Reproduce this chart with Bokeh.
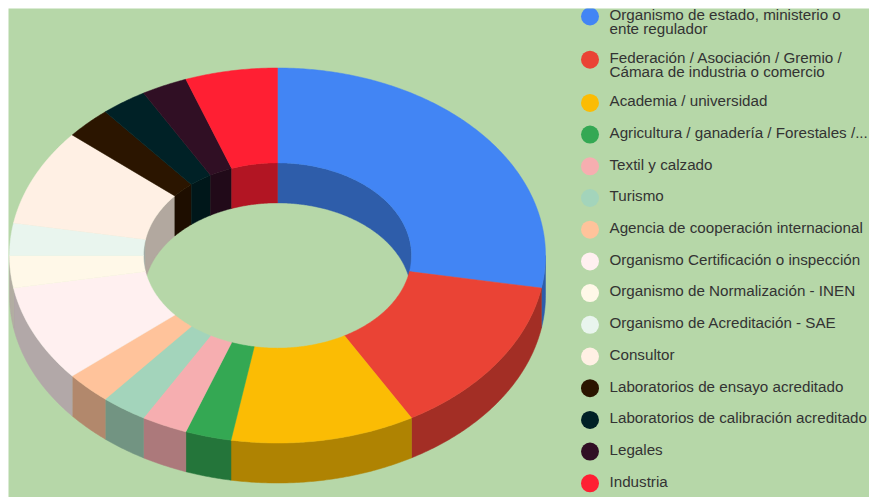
from math import sin, cos, radians
from bokeh.plotting import figure
from bokeh.models import Range1d
from bokeh.core.properties import value
from bokeh.embed import file_html
from bokeh.resources import INLINE

labels = [
    "Organismo de estado, ministerio o\nente regulador",
    "Federación / Asociación / Gremio /\nCámara de industria o comercio",
    "Academia / universidad",
    "Agricultura / ganadería / Forestales /...",
    "Textil y calzado",
    "Turismo",
    "Agencia de cooperación internacional",
    "Organismo Certificación o inspección",
    "Organismo de Normalización - INEN",
    "Organismo de Acreditación - SAE",
    "Consultor",
    "Laboratorios de ensayo acreditado",
    "Laboratorios de calibración acreditado",
    "Legales",
    "Industria",
]
values = [10, 5, 4, 1, 1, 1, 1, 3, 1, 1, 3, 1, 1, 1, 2]
colors = ["#4285f4", "#ea4335", "#fbbc04", "#34a853", "#f6aeb0", "#a3d4bb", "#ffc39b",
          "#fff0f0", "#fff8e8", "#e9f5ee", "#fff0e4", "#2b1500", "#002126", "#300f24", "#ff1f33"]

BG = "#b6d7a8"
W, H = 861, 489
MARGIN = 8
CX, CY = 269, 247
RX, RY = 268, 187.5
HOLE_X, HOLE_Y = 0.5, 0.494
DEPTH = 40
SHADE = 0.7


def darker(c):
    r, g, b = (int(c[i:i + 2], 16) for i in (1, 3, 5))
    return "#%02x%02x%02x" % (int(r * SHADE), int(g * SHADE), int(b * SHADE))


def arc(a, b, fx, fy, dy=0):
    n = max(2, int(abs(b - a) * 2) + 1)
    pts = [a + (b - a) * i / (n - 1) for i in range(n)]
    return ([CX + RX * fx * sin(radians(t)) for t in pts],
            [CY - RY * fy * cos(radians(t)) + dy for t in pts])


def overlap(a, b, lo, hi):
    s, e = max(a, lo), min(b, hi)
    return (s, e) if e > s else None


p = figure(width=W + MARGIN, height=H + MARGIN, x_range=Range1d(0, W), y_range=Range1d(H, 0),
           output_backend="svg", toolbar_location=None,
           min_border=0, min_border_left=MARGIN, min_border_top=MARGIN,
           background_fill_color=BG, border_fill_color="white", outline_line_color=None)
p.axis.visible = False
p.grid.visible = False

total = sum(values)
spans = []
acc = 0
for v in values:
    spans.append((acc * 360 / total, (acc + v) * 360 / total))
    acc += v

# outer side wall (near half)
for (a, b), c in zip(spans, colors):
    o = overlap(a, b, 90, 270)
    if o:
        x1, y1 = arc(o[0], o[1], 1, 1)
        x2, y2 = arc(o[1], o[0], 1, 1, DEPTH)
        p.patch(x1 + x2, y1 + y2, fill_color=darker(c), line_color=darker(c), line_width=0.5)

# inner wall (far half of the hole)
for (a, b), c in zip(spans, colors):
    for lo, hi in ((0, 90), (270, 360)):
        o = overlap(a, b, lo, hi)
        if o:
            x1, y1 = arc(o[0], o[1], HOLE_X, HOLE_Y)
            x2, y2 = arc(o[1], o[0], HOLE_X, HOLE_Y, DEPTH)
            p.patch(x1 + x2, y1 + y2, fill_color=darker(c), line_color=darker(c), line_width=0.5)

# top face
for (a, b), c in zip(spans, colors):
    x1, y1 = arc(a, b, 1, 1)
    x2, y2 = arc(b, a, HOLE_X, HOLE_Y)
    p.patch(x1 + x2, y1 + y2, fill_color=c, line_color=c, line_width=0.5)

# legend
LEG_X, TXT_X = 581.5, 601
y = 8
dot_y, txt_x, txt_y, txt = [], [], [], []
for lab in labels:
    lines = lab.split("\n")
    dot_y.append(y)
    for i, line in enumerate(lines):
        txt_x.append(TXT_X)
        txt_y.append(y - 2.2 + i * 14)
        txt.append(line)
    y += 31.7 + 11.5 * (len(lines) - 1)

p.scatter([LEG_X] * len(dot_y), dot_y, size=18, marker="circle", fill_color=colors, line_color=None)
p.text(txt_x, txt_y, text=txt, text_font=value("Liberation Sans"), text_font_size="15.2px",
       text_color="#333333", text_baseline="middle", text_align="left")

open("out.html", "w").write(file_html(p, INLINE))
